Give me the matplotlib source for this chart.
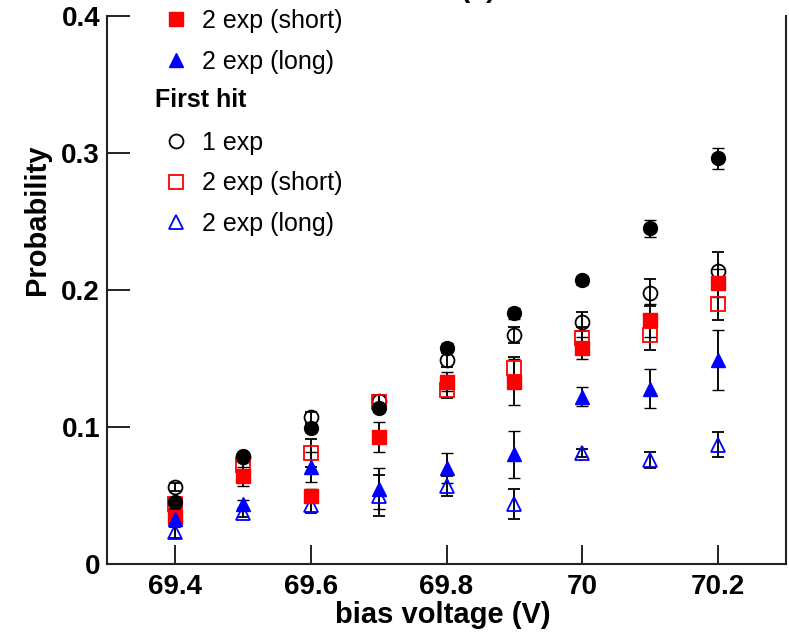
import matplotlib
matplotlib.use("Agg")
import matplotlib.pyplot as plt
from matplotlib.lines import Line2D

plt.rcParams['font.family'] = ['Liberation Sans', 'DejaVu Sans']

# ---------------- data ----------------
bias = [69.4, 69.5, 69.6, 69.7, 69.8, 69.9, 70.0, 70.1, 70.2]

all_1exp = [0.045, 0.079, 0.099, 0.114, 0.158, 0.183, 0.207, 0.245, 0.296]
all_1exp_err = [0.003, 0.003, 0.003, 0.003, 0.003, 0.004, 0.003, 0.006, 0.008]

all_2short = [0.034, 0.064, 0.050, 0.093, 0.133, 0.133, 0.158, 0.178, 0.205]
all_2short_err = [0.004, 0.007, 0.005, 0.011, 0.007, 0.017, 0.008, 0.012, 0.010]

all_2long = [0.033, 0.044, 0.071, 0.055, 0.070, 0.080, 0.122, 0.128, 0.149]
all_2long_err = [0.004, 0.003, 0.011, 0.015, 0.011, 0.017, 0.007, 0.014, 0.022]

first_1exp = [0.056, 0.078, 0.107, 0.119, 0.149, 0.167, 0.177, 0.198, 0.214]
first_1exp_err = [0.003, 0.003, 0.004, 0.004, 0.005, 0.006, 0.007, 0.010, 0.014]

first_2short = [0.044, 0.072, 0.081, 0.118, 0.127, 0.143, 0.165, 0.167, 0.190]
first_2short_err = [0.004, 0.004, 0.010, 0.005, 0.006, 0.008, 0.008, 0.011, 0.012]

first_2long = [0.023, 0.037, 0.043, 0.050, 0.057, 0.044, 0.081, 0.076, 0.087]
first_2long_err = [0.004, 0.003, 0.006, 0.015, 0.007, 0.011, 0.003, 0.006, 0.009]

labels = ["1 exp", "2 exp (short)", "2 exp (long)"]
headers = ["All hits", "First hit"]
xticks = [69.4, 69.6, 69.8, 70.0, 70.2]
xticklabels = ["69.4", "69.6", "69.8", "70", "70.2"]
yticks = [0, 0.1, 0.2, 0.3, 0.4]
yticklabels = ["0", "0.1", "0.2", "0.3", "0.4"]

# ---------------- figure ----------------
W, H = 789, 633
fig = plt.figure(figsize=(W / 100, H / 100), dpi=100)
ax = fig.add_axes([107 / W, (H - 564) / H, 679 / W, 548 / H])
ax.set_xlim(69.3, 70.3)
ax.set_ylim(0, 0.4)

ms = 10
ekw = dict(ecolor='black', elinewidth=1.35, capsize=4.3, capthick=1.35, linestyle='none')

series_open = [
    (first_1exp, first_1exp_err, 'o', 'black'),
    (first_2short, first_2short_err, 's', 'red'),
    (first_2long, first_2long_err, '^', 'blue'),
]
series_filled = [
    (all_1exp, all_1exp_err, 'o', 'black'),
    (all_2short, all_2short_err, 's', 'red'),
    (all_2long, all_2long_err, '^', 'blue'),
]

for y, e, m, c in series_open:
    ax.errorbar(bias, y, yerr=e, marker=m, markersize=ms, markerfacecolor='none',
                markeredgecolor=c, markeredgewidth=1.3, **ekw)
for y, e, m, c in series_filled:
    ax.errorbar(bias, y, yerr=e, marker=m, markersize=ms, markerfacecolor=c,
                markeredgecolor=c, markeredgewidth=1.0, **ekw)

# axes styling
for s in ['left', 'bottom', 'right']:
    ax.spines[s].set_linewidth(1.5)
    ax.spines[s].set_color('#222222')
ax.spines['top'].set_visible(False)

ax.set_xticks(xticks)
ax.set_xticklabels(xticklabels, fontsize=20, fontweight='bold')
ax.set_yticks(yticks)
ax.set_yticklabels(yticklabels, fontsize=20, fontweight='bold')
ax.tick_params(axis='x', direction='in', length=14, width=1.4, pad=7, color='#222222')
ax.tick_params(axis='y', direction='in', length=16.5, width=1.4, pad=5, color='#222222')
ax.minorticks_off()

fig.text(443 / W, 1 - 615 / H, "bias voltage (V)", fontsize=21, fontweight='bold',
         ha='center', va='center')
fig.text(37 / W, 1 - 220 / H, "Probability", fontsize=21, fontweight='bold',
         ha='center', va='center', rotation=90)

# title (mostly cropped at the top)
fig.text(478 / W, 1 + 3 / H, "(b)", fontsize=20, fontweight='bold',
         ha='center', va='baseline')

# legend: header rows are placeholders (hidden), header text drawn separately
blank = Line2D([], [], linestyle='none', marker='none')
handles = [blank]
texts = [headers[0]]
for y, e, m, c in series_filled:
    handles.append(Line2D([], [], linestyle='none', marker=m, markersize=ms,
                          markerfacecolor=c, markeredgecolor=c))
texts += labels
handles.append(blank)
texts.append(headers[1])
for y, e, m, c in series_open:
    handles.append(Line2D([], [], linestyle='none', marker=m, markersize=ms,
                          markerfacecolor='none', markeredgecolor=c, markeredgewidth=1.3))
texts += labels

leg = ax.legend(handles, texts, loc='lower left', frameon=False, fontsize=18,
                handlelength=1.0, handletextpad=0.54, labelspacing=0.664,
                borderpad=0, borderaxespad=0,
                bbox_to_anchor=(163.5 / W, 1 - 236 / H), bbox_transform=fig.transFigure)
leg_texts = leg.get_texts()
leg_texts[0].set_alpha(0)
leg_texts[4].set_alpha(0)

fig.text(155 / W, 1 - 100 / H, headers[1], fontsize=18, fontweight='bold',
         ha='left', va='center')
fig.text(155 / W, 1 + 60 / H, headers[0], fontsize=18, fontweight='bold',
         ha='left', va='center')

fig.savefig("out.png", dpi=100)
